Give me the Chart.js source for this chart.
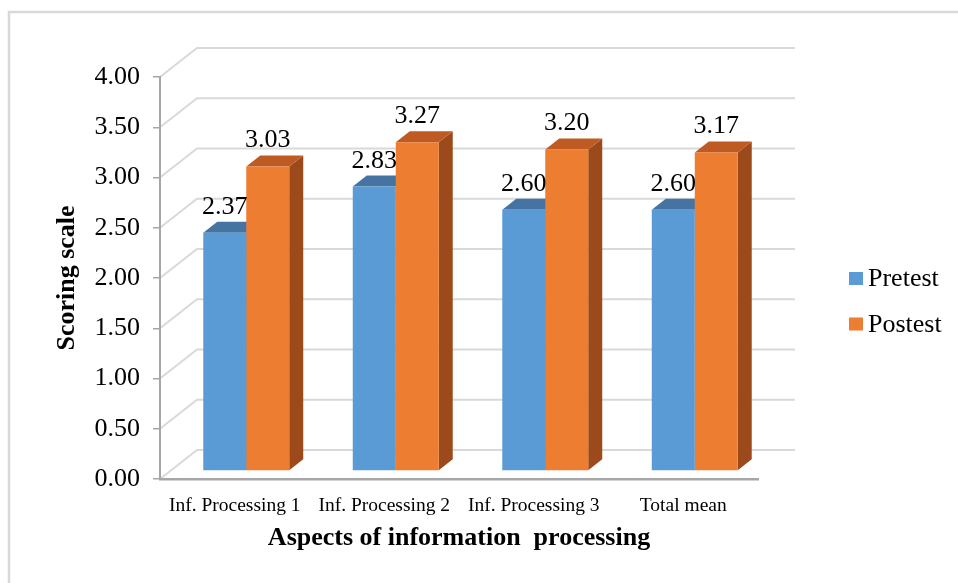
<!DOCTYPE html>
<html>
<head>
<meta charset="utf-8">
<script src="https://cdn.jsdelivr.net/npm/chart.js@4"></script>
<style>
  html, body { margin: 0; padding: 0; background: #ffffff; }
  #wrap { width: 958px; height: 583px; position: relative; }
</style>
</head>
<body>
<div id="wrap"><canvas id="chart" width="958" height="583"></canvas></div>
<script>
// Mean scores on the 0-4 scale for each aspect
const categories = ['Inf. Processing 1', 'Inf. Processing 2', 'Inf. Processing 3', 'Total mean'];
const pretest = [2.37, 2.83, 2.60, 2.60];
const postest = [3.03, 3.27, 3.20, 3.17];
const seriesNames = ['Pretest', 'Postest'];
const yTicks = [0, 0.5, 1, 1.5, 2, 2.5, 3, 3.5, 4];

const SERIF = '"Liberation Serif", "Times New Roman", serif';
const AXIS_GREY = '#a6a6a6';
const GRID_GREY = '#d9d9d9';

// depth of the floor / walls and of each bar (pseudo-3D projection)
const WALL = { dx: 37, dy: -29 };
const BAR_SHIFT = { dx: 11.5, dy: -8 };
const BAR_DEPTH = { dx: 14, dy: -11 };

const faceColors = [
  { top: '#4574a3', side: '#3d6991' },
  { top: '#be5a22', side: '#9c4a1b' }
];

// Outer frame, back wall grid lines and the diagonal lines on the side wall
const wallsPlugin = {
  id: 'walls',
  beforeDraw(chart) {
    const ctx = chart.ctx;
    const area = chart.chartArea;
    const y = chart.scales.y;
    ctx.save();
    ctx.strokeStyle = GRID_GREY;
    ctx.lineWidth = 2.5;
    ctx.beginPath();
    ctx.moveTo(9, 700);
    ctx.lineTo(9, 12);
    ctx.lineTo(1100, 12);
    ctx.stroke();

    ctx.lineWidth = 2;
    yTicks.forEach(v => {
      const py = y.getPixelForValue(v);
      ctx.beginPath();
      ctx.moveTo(area.left, py);
      ctx.lineTo(area.left + WALL.dx, py + WALL.dy);
      ctx.lineTo(area.right + WALL.dx, py + WALL.dy);
      ctx.stroke();
    });
    ctx.restore();
  }
};

// Bars are pushed back into the depth; the top and right side faces of every
// bar are painted first, then the library paints the front faces over them.
const bars3dPlugin = {
  id: 'bars3d',
  beforeDatasetsDraw(chart) {
    const ctx = chart.ctx;
    ctx.save();
    ctx.translate(BAR_SHIFT.dx, BAR_SHIFT.dy);
    const metas = chart.data.datasets.map((ds, i) => chart.getDatasetMeta(i));
    chart.data.labels.forEach((label, j) => {
      metas.forEach((meta, i) => {
        const colors = faceColors[i];
        const p = meta.data[j].getProps(['x', 'y', 'base', 'width'], true);
        const L = p.x - p.width / 2, R = p.x + p.width / 2;
        ctx.fillStyle = colors.side;
        ctx.beginPath();
        ctx.moveTo(R, p.y);
        ctx.lineTo(R + BAR_DEPTH.dx, p.y + BAR_DEPTH.dy);
        ctx.lineTo(R + BAR_DEPTH.dx, p.base + BAR_DEPTH.dy);
        ctx.lineTo(R, p.base);
        ctx.closePath();
        ctx.fill();
        ctx.fillStyle = colors.top;
        ctx.beginPath();
        ctx.moveTo(L, p.y);
        ctx.lineTo(R, p.y);
        ctx.lineTo(R + BAR_DEPTH.dx, p.y + BAR_DEPTH.dy);
        ctx.lineTo(L + BAR_DEPTH.dx, p.y + BAR_DEPTH.dy);
        ctx.closePath();
        ctx.fill();
      });
    });
  },
  afterDatasetsDraw(chart) {
    const ctx = chart.ctx;
    ctx.restore();
    ctx.save();
    ctx.font = '26px ' + SERIF;
    ctx.fillStyle = '#000000';
    ctx.textAlign = 'center';
    ctx.textBaseline = 'alphabetic';
    chart.data.datasets.forEach((ds, i) => {
      chart.getDatasetMeta(i).data.forEach((bar, j) => {
        const p = bar.getProps(['x', 'y'], true);
        ctx.fillText(ds.data[j].toFixed(2), p.x + BAR_SHIFT.dx, p.y + BAR_SHIFT.dy - 19);
      });
    });
    ctx.restore();
  }
};

// Legend on the right, one square marker per series
const legendPlugin = {
  id: 'sideLegend',
  afterDraw(chart) {
    const ctx = chart.ctx;
    ctx.save();
    ctx.font = '26px ' + SERIF;
    ctx.textBaseline = 'middle';
    ctx.textAlign = 'left';
    chart.data.datasets.forEach((ds, i) => {
      const cy = 278.5 + i * 45.5;
      ctx.fillStyle = ds.backgroundColor;
      ctx.fillRect(849, cy - 6.5, 14, 13);
      ctx.fillStyle = '#000000';
      ctx.fillText(ds.label, 868, cy + 1);
    });
    ctx.restore();
  }
};

new Chart(document.getElementById('chart'), {
  type: 'bar',
  data: {
    labels: categories,
    datasets: [
      { label: seriesNames[0], data: pretest, backgroundColor: '#5b9bd5' },
      { label: seriesNames[1], data: postest, backgroundColor: '#ed7d31' }
    ]
  },
  options: {
    responsive: false,
    devicePixelRatio: 1,
    animation: false,
    layout: { padding: { left: 52, top: 77, right: 200, bottom: 29 } },
    datasets: { bar: { categoryPercentage: 0.575, barPercentage: 1 } },
    plugins: {
      legend: { display: false },
      tooltip: { enabled: false }
    },
    scales: {
      x: {
        grid: { display: false },
        border: { display: true, color: AXIS_GREY, width: 2.5 },
        ticks: { font: { family: SERIF, size: 19.5 }, color: '#000000', padding: 7, maxRotation: 0, autoSkip: false },
        title: {
          display: true,
          text: 'Aspects of information  processing',
          font: { family: SERIF, size: 26, weight: 'bold' },
          color: '#000000',
          padding: 0
        },
        afterFit(s) { s.height = 75; }
      },
      y: {
        min: 0,
        max: 4,
        afterBuildTicks(s) { s.ticks = yTicks.map(v => ({ value: v })); },
        grid: { drawOnChartArea: false, drawTicks: true, tickLength: 7, color: AXIS_GREY, lineWidth: 1.5 },
        border: { display: true, color: AXIS_GREY, width: 2 },
        ticks: {
          font: { family: SERIF, size: 26 },
          color: '#000000',
          padding: 13,
          callback: v => Number(v).toFixed(2)
        },
        title: {
          display: true,
          text: 'Scoring scale',
          font: { family: SERIF, size: 26, weight: 'bold' },
          color: '#000000',
          padding: 0
        },
        afterFit(s) { s.width = 108; }
      }
    }
  },
  plugins: [wallsPlugin, bars3dPlugin, legendPlugin]
});
</script>
</body>
</html>
